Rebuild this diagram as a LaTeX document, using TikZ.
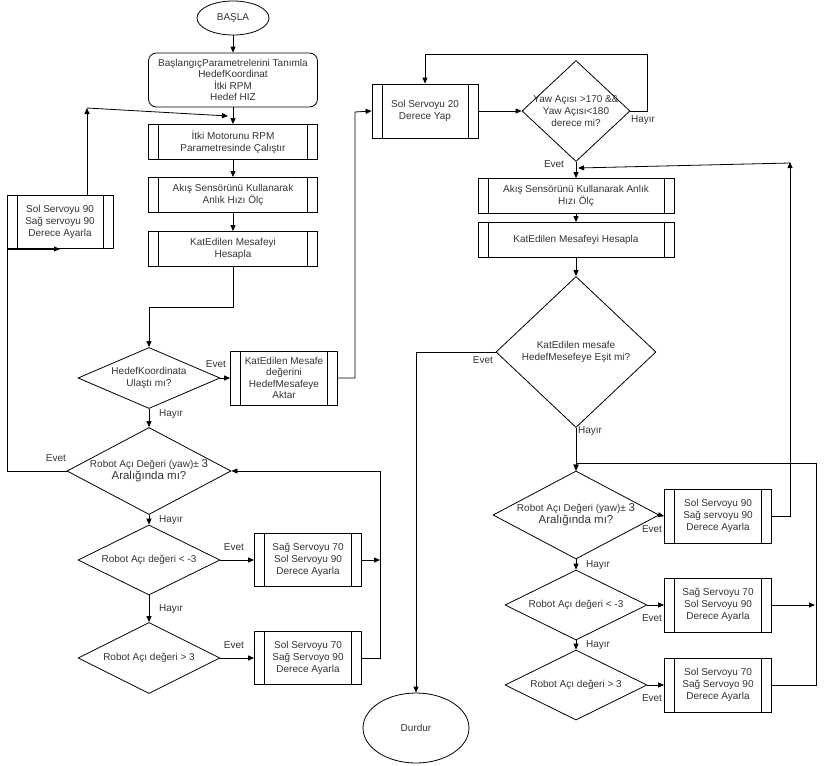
\documentclass[tikz,border=0pt]{standalone}
\usepackage{fontspec}
\setmainfont{Liberation Sans}
\usetikzlibrary{shapes.geometric,arrows.meta}
\begin{document}
\begin{tikzpicture}[x=1pt,y=-1pt,font=\fontsize{10}{12}\selectfont,
  every node/.style={text=black!80,align=center},
  proc/.style={draw,thick,minimum width=#1,minimum height=35,inner sep=1pt,align=center,
    path picture={\draw[thick] ([xshift=10pt]path picture bounding box.north west) -- ([xshift=10pt]path picture bounding box.south west);
      \draw[thick] ([xshift=-10pt]path picture bounding box.north east) -- ([xshift=-10pt]path picture bounding box.south east);}},
  proc/.default=169,
  dec/.style 2 args={draw,thick,diamond,minimum width=#1,minimum height=#2,inner sep=0pt,aspect=1},
  arr/.style={thick,-{Triangle[length=6pt,width=5pt]}},
  lbl/.style={font=\fontsize{10}{12}\selectfont}]
\useasboundingbox (0,0) rectangle (825,766);
% left column
\node[draw,thick,ellipse,minimum width=72,minimum height=34] (start) at (233,18) {BAŞLA};
\node[draw,thick,rounded corners=8pt,minimum width=169,minimum height=54,inner sep=1pt,font=\fontsize{10}{11.5}\selectfont] (init) at (233,80) {BaşlangıçParametrelerini Tanımla\\HedefKoordinat\\İtki RPM\\Hedef HIZ};
\node[proc] (p1) at (233,142) {İtki Motorunu RPM\\Parametresinde Çalıştır};
\node[proc] (p2) at (233,195) {Akış Sensörünü Kullanarak\\Anlık Hızı Ölç};
\node[proc] (p3) at (233,249) {KatEdilen Mesafeyi\\Hesapla};
\node[proc=106,minimum height=53] (ls) at (60,222) {Sol Servoyu 90\\Sağ servoyu 90\\Derece Ayarla};
\node[dec={142}{61}] (d1) at (149,378) {};
\node at (149,378) {HedefKoordinata\\Ulaştı mı?};
\node[proc=107,minimum height=54,font=\fontsize{10}{11.5}\selectfont] (km) at (284,378) {KatEdilen Mesafe\\değerini\\HedefMesafeye\\Aktar};
\node[dec={164}{87}] (d2) at (149,471) {};
\node at (149,471) {Robot Açı Değeri (yaw)± \fontsize{11.5}{13}\selectfont 3\\\fontsize{11.5}{14}\selectfont Aralığında mı?};
\node[dec={142}{70}] (d3) at (149,560) {};
\node at (149,560) {Robot Açı değeri < -3};
\node[dec={142}{71}] (d4) at (149,658) {};
\node at (149,658) {Robot Açı değeri > 3};
\node[proc=107,minimum height=53] (l1) at (308,560) {Sağ Servoyu 70\\Sol Servoyu 90\\Derece Ayarla};
\node[proc=107,minimum height=53] (l2) at (308,658) {Sol Servoyu 70\\Sağ Servoyo 90\\Derece Ayarla};
% right column
\node[proc=106,minimum height=54] (s20) at (425,111) {Sol Servoyu 20\\Derece Yap};
\node[dec={108}{101}] (d5) at (576,111) {};
\node at (576,111) {Yaw Açısı >170 \&\&\\Yaw Açısı<180\\derece mi?};
\node[proc=196] (r1) at (576,196) {Akış Sensörünü Kullanarak Anlık\\Hızı Ölç};
\node[proc=196] (r2) at (576,240) {KatEdilen Mesafeyi Hesapla};
\node[dec={160}{151}] (d6) at (576,352) {};
\node at (576,352) {KatEdilen mesafe\\HedefMesefeye Eşit mi?};
\node[draw,thick,ellipse,minimum width=106,minimum height=70] (stop) at (416,728) {Durdur};
\node[dec={166}{88}] (d7) at (576,515) {};
\node at (576,515) {Robot Açı Değeri (yaw)± \fontsize{11.5}{13}\selectfont 3\\\fontsize{11.5}{14}\selectfont Aralığında mı?};
\node[dec={142}{70}] (d8) at (576,605) {};
\node at (576,605) {Robot Açı değeri < -3};
\node[dec={142}{70}] (d9) at (576,685) {};
\node at (576,685) {Robot Açı değeri > 3};
\node[proc=107,minimum height=54] (rb1) at (718,516) {Sol Servoyu 90\\Sağ servoyu 90\\Derece Ayarla};
\node[proc=107,minimum height=54] (rb2) at (718,605) {Sağ Servoyu 70\\Sol Servoyu 90\\Derece Ayarla};
\node[proc=107,minimum height=54] (rb3) at (718,685) {Sol Servoyu 70\\Sağ Servoyo 90\\Derece Ayarla};
\coordinate (j1) at (228,116);
\coordinate (j2) at (578,168);
% left connectors
\draw[arr] (start) -- (init);
\draw[arr] (init) -- (p1);
\draw[arr] (p1) -- (p2);
\draw[arr] (p2) -- (p3);
\draw[arr] (p3.south) -- (233,307) -- (149,307) -- (d1.north);
\draw[arr] (d1.east) -- (km.west);
\draw[arr] (d1.south) -- (d2.north);
\draw[arr] (d2.south) -- (d3.north);
\draw[arr] (d3.south) -- (d4.north);
\draw[arr] (d3.east) -- (l1.west);
\draw[arr] (d4.east) -- (l2.west);
\draw[arr] (l1.east) -- (380,560);
\draw[arr] (l2.east) -- (380,658) -- (380,471) -- (d2.east);
\draw[arr] (d2.west) -- (7,471) -- (7,249) -- (60,249);
\draw[arr] (87,196) -- (87,108);
\draw[arr] (87,108) -- (j1);
\draw[arr] (km.east) -- (355,378) -- (355,112) -- (s20.west);
% right connectors
\draw[arr] (s20.east) -- (d5.west);
\draw[arr] (d5.east) -- (647,111) -- (647,54) -- (425,54) -- (s20.north);
\draw[arr] (d5.south) -- (r1.north);
\draw[arr] (r1) -- (r2);
\draw[arr] (r2) -- (d6);
\draw[arr] (d6.west) -- (416,352) -- (stop.north);
\draw[arr] (d6.south) -- (d7.north);
\draw[arr] (d7.east) -- (rb1.west);
\draw[arr] (d7.south) -- (d8.north);
\draw[arr] (d8.south) -- (d9.north);
\draw[arr] (d8.east) -- (rb2.west);
\draw[arr] (d9.east) -- (rb3.west);
\draw[arr] (rb1.east) -- (790,516) -- (790,162);
\draw[arr] (790,163) -- (j2);
\draw[arr] (rb2.east) -- (815,605);
\draw[arr] (rb3.east) -- (816,685) -- (816,463) -- (576,463) -- (d7.north);
% labels
\node[lbl] at (216,364) {Evet};
\node[lbl] at (171,414) {Hayır};
\node[lbl] at (56,458) {Evet};
\node[lbl] at (171,520) {Hayır};
\node[lbl] at (234,547) {Evet};
\node[lbl] at (171,609) {Hayır};
\node[lbl] at (234,645) {Evet};
\node[lbl] at (643,120) {Hayır};
\node[lbl] at (554,164) {Evet};
\node[lbl] at (483,360) {Evet};
\node[lbl] at (590,431) {Hayır};
\node[lbl] at (652,529) {Evet};
\node[lbl] at (598,565) {Hayır};
\node[lbl] at (652,618) {Evet};
\node[lbl] at (598,645) {Hayır};
\node[lbl] at (652,698) {Evet};
\end{tikzpicture}
\end{document}
